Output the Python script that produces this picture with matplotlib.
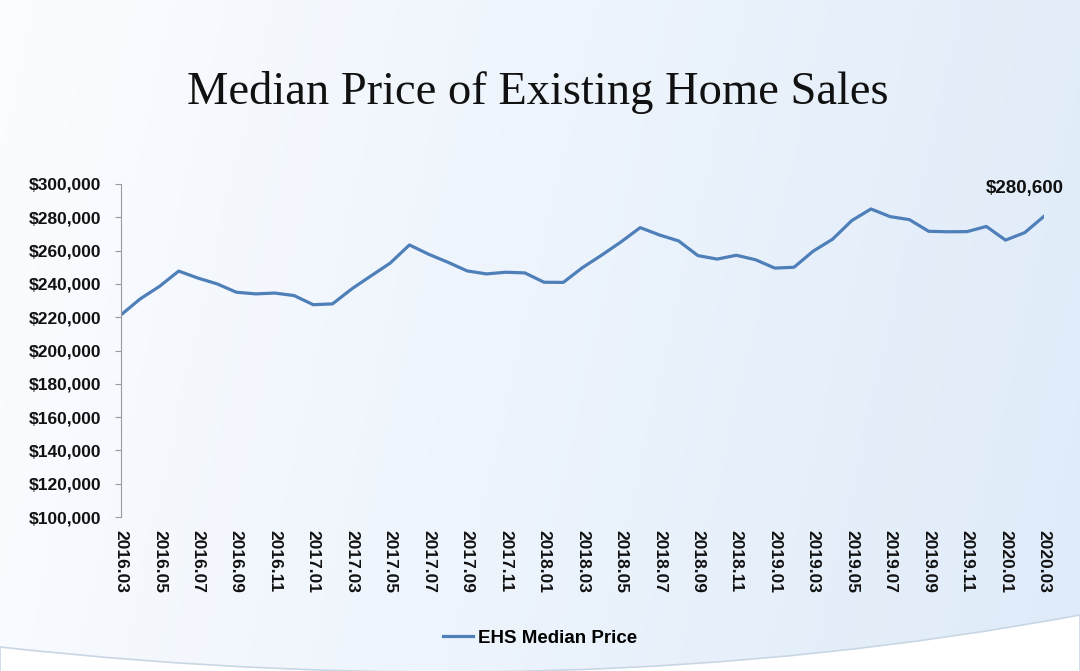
import numpy as np
import pandas as pd
import matplotlib
matplotlib.use("Agg")
import matplotlib.pyplot as plt
from matplotlib.path import Path
import matplotlib.patches as patches
from matplotlib.ticker import FuncFormatter

# EHS median price, monthly 2016.03 - 2020.03
months = pd.date_range("2016-03-01", "2020-03-01", freq="MS").strftime("%Y.%m").tolist()
prices = [
    221400, 231000, 238500, 247700, 243500, 240000, 235000, 234000, 234500, 233000,
    227500, 228000, 237000, 244800, 252500, 263400, 257800, 253000, 247800, 246000,
    247000, 246600, 241000, 240900, 249800, 257300, 265200, 273800, 269400, 265800,
    257000, 254900, 257200, 254500, 249500, 250000, 259700, 266800, 278000, 285000,
    280400, 278600, 271600, 271300, 271400, 274500, 266300, 270800, 280600,
]
y_ticks = list(range(100000, 300001, 20000))
series_name = "EHS Median Price"
title = "Median Price of Existing Home Sales"

W, H = 1080, 671
fig = plt.figure(figsize=(W / 100, H / 100), dpi=100)

# background: light blue gradient + white swoosh at the bottom
bg = fig.add_axes([0, 0, 1, 1])
bg.set_xlim(0, W)
bg.set_ylim(H, 0)
bg.axis("off")
gx, gy = np.meshgrid(np.linspace(0, 1, 300), np.linspace(0, 1, 200))
t = np.clip(0.85 * gx + 0.12 * gy, 0, 1)
c0 = np.array([0.985, 0.99, 1.0])
c1 = np.array([0.87, 0.92, 0.975])
img = c0[None, None, :] * (1 - t[..., None]) + c1[None, None, :] * t[..., None]
bg.imshow(img, extent=(0, W, H, 0), aspect="auto", zorder=0)
verts = [(0, 647), (569, 710), (1080, 615), (1080, H + 5), (0, H + 5), (0, 647)]
codes = [Path.MOVETO, Path.CURVE3, Path.CURVE3, Path.LINETO, Path.LINETO, Path.CLOSEPOLY]
bg.add_patch(patches.PathPatch(Path(verts, codes), facecolor="white",
                               edgecolor="#c9d6e4", lw=1.2, zorder=1))

fig.text(0.498, 1 - 93 / H, title, ha="center", va="center",
         fontsize=33.5, family="Liberation Serif", color="#111111")

ax = fig.add_axes([121 / W, 1 - 517 / H, 923 / W, 333 / H])
ax.set_facecolor("none")
x = np.arange(len(months))
line, = ax.plot(x, prices, color="#4f7fb9", lw=2.3, label=series_name)

ax.set_xlim(0, len(months) - 1)
ax.set_ylim(100000, 300000)
ax.set_yticks(y_ticks)
ax.yaxis.set_major_formatter(FuncFormatter(lambda v, p: f"${v:,.0f}"))
ax.set_xticks(x[::2])
ax.set_xticklabels(months[::2], rotation=-90, ha="center", va="top")

for s in ["top", "right", "bottom"]:
    ax.spines[s].set_visible(False)
ax.spines["left"].set_color("#9a9a9a")
ax.tick_params(axis="y", length=4, color="#9a9a9a", pad=10)
ax.tick_params(axis="x", length=0, pad=9)
for lab in ax.get_xticklabels() + ax.get_yticklabels():
    lab.set_fontfamily("Liberation Sans")
    lab.set_fontweight("bold")
    lab.set_fontsize(12.5)
    lab.set_color("#111111")

ax.annotate(f"${prices[-1]:,}", xy=(x[-1], prices[-1]), xytext=(-14, 14),
            textcoords="offset points", ha="center", va="bottom",
            fontsize=13.5, fontweight="bold", family="Liberation Sans", color="#111111")

leg = fig.legend(handles=[line], loc="center", bbox_to_anchor=(540 / W, 1 - 638 / H),
                 frameon=False, handlelength=1.6, handletextpad=0.3,
                 prop={"family": "Liberation Sans", "weight": "bold", "size": 13.5})

fig.savefig("out.png", dpi=100)
